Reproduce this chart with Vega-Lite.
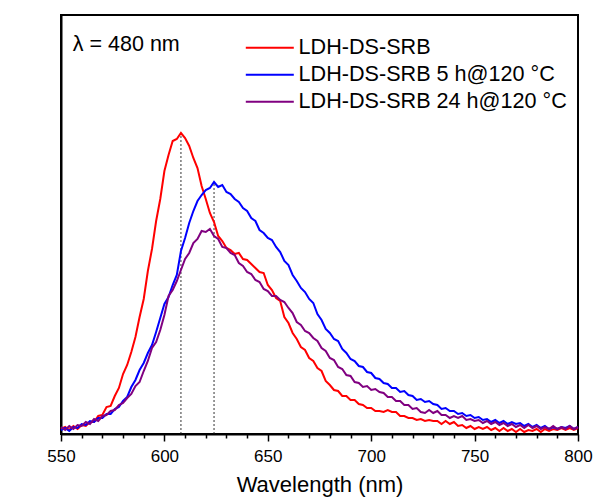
{
  "$schema": "https://vega.github.io/schema/vega-lite/v6.json",
  "width": 517,
  "height": 419,
  "autosize": {"type": "none"},
  "padding": {"left": 61, "top": 15, "right": 17, "bottom": 64},
  "config": {
    "font": "Liberation Sans",
    "view": {"stroke": "black", "strokeWidth": 2},
    "axis": {"grid": false, "domainColor": "black", "domainWidth": 2, "labelColor": "black", "titleColor": "black", "titleFontWeight": "normal"},
    "axisY": {"ticks": false, "labels": false, "title": "I (a.u.)", "titleFontSize": 20, "titlePadding": 30}
  },
  "resolve": {"axis": {"x": "independent"}},
  "datasets": {
    "spec": [
      {"w":550,"a":5,"b":4,"c":7},{"w":552,"a":7,"b":6,"c":4},{"w":554,"a":4,"b":3,"c":8},{"w":556,"a":8,"b":7,"c":5},{"w":558,"a":5,"b":6,"c":9},
      {"w":560,"a":9,"b":10,"c":8},{"w":562,"a":8,"b":9,"c":12},{"w":564,"a":12,"b":13,"c":10},{"w":566,"a":12,"b":12,"c":15},{"w":568,"a":18,"b":16,"c":13},
      {"w":570,"a":19,"b":16,"c":18},{"w":572,"a":27,"b":20,"c":19},{"w":574,"a":28,"b":20,"c":23},{"w":576,"a":38,"b":25,"c":24},{"w":578,"a":46,"b":27,"c":29},
      {"w":580,"a":60,"b":33,"c":31},{"w":582,"a":69,"b":37,"c":36},{"w":584,"a":82,"b":47,"c":40},{"w":586,"a":97,"b":54,"c":48},{"w":588,"a":117,"b":64,"c":52},
      {"w":590,"a":135,"b":71,"c":63},{"w":592,"a":163,"b":81,"c":73},{"w":594,"a":185,"b":89,"c":86},{"w":596,"a":213,"b":102,"c":92},{"w":598,"a":235,"b":116,"c":104},
      {"w":600,"a":263,"b":130,"c":119},{"w":602,"a":279,"b":137,"c":138},{"w":604,"a":293,"b":149,"c":144},{"w":606,"a":295,"b":159,"c":153},{"w":608,"a":301,"b":183,"c":164},
      {"w":610,"a":296,"b":196,"c":175},{"w":612,"a":288,"b":211,"c":181},{"w":614,"a":276,"b":223,"c":191},{"w":616,"a":266,"b":233,"c":195},{"w":618,"a":248,"b":239,"c":203},
      {"w":620,"a":235,"b":244,"c":202},{"w":622,"a":221,"b":246,"c":205},{"w":624,"a":212,"b":252,"c":198},{"w":626,"a":198,"b":247,"c":195},{"w":628,"a":193,"b":249,"c":187},
      {"w":630,"a":186,"b":242,"c":186},{"w":632,"a":184,"b":240,"c":181},{"w":634,"a":180,"b":235,"c":179},{"w":636,"a":181,"b":232,"c":171},{"w":638,"a":175,"b":226,"c":168},
      {"w":640,"a":174,"b":223,"c":162},{"w":642,"a":170,"b":216,"c":160},{"w":644,"a":166,"b":213,"c":154},{"w":646,"a":162,"b":204,"c":152},{"w":648,"a":161,"b":201,"c":145},
      {"w":650,"a":149,"b":196,"c":143},{"w":652,"a":144,"b":194,"c":138},{"w":654,"a":136,"b":187,"c":138},{"w":656,"a":133,"b":182,"c":134},{"w":658,"a":117,"b":173,"c":132},
      {"w":660,"a":111,"b":169,"c":126},{"w":662,"a":101,"b":159,"c":121},{"w":664,"a":95,"b":153,"c":112},{"w":666,"a":87,"b":146,"c":109},{"w":668,"a":84,"b":142,"c":103},
      {"w":670,"a":76,"b":135,"c":101},{"w":672,"a":73,"b":131,"c":96},{"w":674,"a":66,"b":120,"c":93},{"w":676,"a":63,"b":114,"c":86},{"w":678,"a":53,"b":105,"c":83},
      {"w":680,"a":49,"b":101,"c":76},{"w":682,"a":44,"b":95,"c":74},{"w":684,"a":43,"b":93,"c":67},{"w":686,"a":38,"b":85,"c":65},{"w":688,"a":38,"b":81,"c":59},
      {"w":690,"a":34,"b":75,"c":58},{"w":692,"a":34,"b":73,"c":52},{"w":694,"a":30,"b":68,"c":51},{"w":696,"a":29,"b":67,"c":47},{"w":698,"a":26,"b":62,"c":48},
      {"w":700,"a":26,"b":61,"c":44},{"w":702,"a":23,"b":56,"c":45},{"w":704,"a":23,"b":55,"c":42},{"w":706,"a":22,"b":51,"c":41},{"w":708,"a":24,"b":50,"c":37},
      {"w":710,"a":22,"b":46,"c":37},{"w":712,"a":22,"b":46,"c":33},{"w":714,"a":18,"b":42,"c":33},{"w":716,"a":18,"b":43,"c":29},{"w":718,"a":16,"b":39,"c":29},
      {"w":720,"a":16,"b":38,"c":25},{"w":722,"a":14,"b":34,"c":26},{"w":724,"a":15,"b":35,"c":22},{"w":726,"a":13,"b":32,"c":21},{"w":728,"a":14,"b":33,"c":24},
      {"w":730,"a":13,"b":30,"c":21},{"w":732,"a":13,"b":29,"c":23},{"w":734,"a":10,"b":25,"c":19},{"w":736,"a":13,"b":26,"c":19},{"w":738,"a":10,"b":23,"c":16},
      {"w":740,"a":12,"b":23,"c":18},{"w":742,"a":8,"b":20,"c":16},{"w":744,"a":9,"b":21,"c":18},{"w":746,"a":6,"b":18,"c":14},{"w":748,"a":8,"b":19,"c":15},
      {"w":750,"a":5,"b":16,"c":13},{"w":752,"a":7,"b":17,"c":14},{"w":754,"a":5,"b":14,"c":11},{"w":756,"a":7,"b":15,"c":13},{"w":758,"a":4,"b":12,"c":10},
      {"w":760,"a":6,"b":14,"c":12},{"w":762,"a":3,"b":11,"c":9},{"w":764,"a":6,"b":13,"c":11},{"w":766,"a":3,"b":10,"c":8},{"w":768,"a":5,"b":12,"c":10},
      {"w":770,"a":2,"b":10,"c":7},{"w":772,"a":5,"b":11,"c":9},{"w":774,"a":2,"b":8,"c":6},{"w":776,"a":4,"b":10,"c":9},{"w":778,"a":3,"b":7,"c":6},
      {"w":780,"a":5,"b":9,"c":8},{"w":782,"a":2,"b":6,"c":5},{"w":784,"a":5,"b":8,"c":7},{"w":786,"a":3,"b":5,"c":5},{"w":788,"a":5,"b":7,"c":8},
      {"w":790,"a":4,"b":5,"c":5},{"w":792,"a":6,"b":7,"c":7},{"w":794,"a":4,"b":6,"c":5},{"w":796,"a":6,"b":8,"c":8},{"w":798,"a":4,"b":5,"c":5},
      {"w":800,"a":6,"b":7,"c":7}
    ],
    "peaks": [{"w":608,"y0":0,"y":301},{"w":624,"y0":0,"y":252}],
    "note": [{"w":555.7,"y":389,"t":"λ = 480 nm"}]
  },
  "layer": [
    {
      "data": {"name": "peaks"},
      "mark": {"type": "rule", "color": "#333333", "strokeWidth": 1, "strokeDash": [2, 2]},
      "encoding": {
        "x": {
          "field": "w", "type": "quantitative",
          "scale": {"domain": [550, 800], "nice": false, "zero": false},
          "axis": {
            "orient": "bottom",
            "values": [560,570,580,590,610,620,630,640,660,670,680,690,710,720,730,740,760,770,780,790],
            "labels": false,
            "domain": false,
            "title": null,
            "ticks": true,
            "tickColor": "#000000",
            "tickSize": 4,
            "tickWidth": 1.5,
            "zindex": 1
          }
        },
        "y": {"field": "y0", "type": "quantitative", "scale": {"domain": [0, 419], "nice": false, "zero": false}},
        "y2": {"field": "y"}
      }
    },
    {
      "data": {"name": "spec"},
      "transform": [{"fold": ["a", "b", "c"], "as": ["series", "v"]}],
      "mark": {"type": "line", "strokeWidth": 2, "interpolate": "linear"},
      "encoding": {
        "x": {
          "field": "w", "type": "quantitative",
          "axis": {
            "orient": "bottom",
            "values": [550,600,650,700,750,800],
            "ticks": true,
            "tickColor": "#000000",
            "tickSize": 7,
            "tickWidth": 1.5,
            "zindex": 1,
            "labelFontSize": 17,
            "labelPadding": 7,
            "labelFlush": false,
            "labelOverlap": false,
            "title": "Wavelength (nm)",
            "titleFontSize": 22,
            "titlePadding": 10
          }
        },
        "y": {"field": "v", "type": "quantitative"},
        "color": {
          "field": "series", "type": "nominal",
          "scale": {"domain": ["a", "b", "c"], "range": ["#ff0000", "#0000ff", "#800080"]},
          "legend": {
            "orient": "none",
            "legendX": 210,
            "legendY": 22,
            "title": null,
            "symbolType": "M-7.2,0H2.4",
            "symbolSize": 100,
            "symbolStrokeWidth": 2,
            "labelFontSize": 21.6,
            "labelColor": "black",
            "labelOffset": 6,
            "rowPadding": 4,
            "labelLimit": 400,
            "labelExpr": "datum.label === 'a' ? 'LDH-DS-SRB' : datum.label === 'b' ? 'LDH-DS-SRB 5 h@120 °C' : 'LDH-DS-SRB 24 h@120 °C'"
          }
        }
      }
    },
    {
      "data": {"name": "note"},
      "mark": {"type": "text", "align": "left", "baseline": "middle", "fontSize": 21.5, "color": "black"},
      "encoding": {
        "x": {"field": "w", "type": "quantitative", "axis": null},
        "y": {"field": "y", "type": "quantitative"},
        "text": {"field": "t"}
      }
    }
  ]
}
